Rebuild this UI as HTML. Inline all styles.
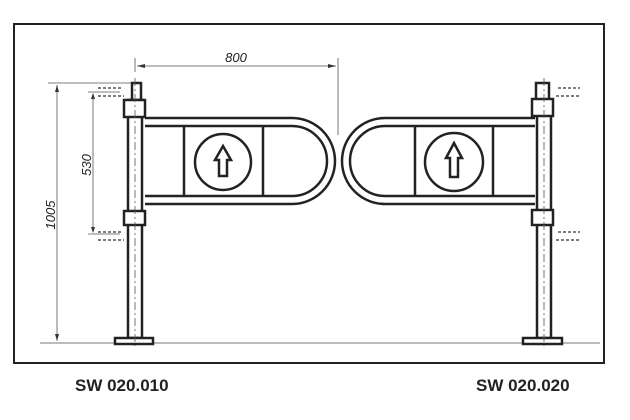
<!DOCTYPE html>
<html><head><style>body{margin:0;background:#fff}svg{display:block}</style></head><body>
<svg width="630" height="420" viewBox="0 0 630 420" xmlns="http://www.w3.org/2000/svg" font-family="Liberation Sans, sans-serif">
<rect x="14" y="24" width="590" height="339" fill="none" stroke="#222" stroke-width="2"/>
<line x1="40" y1="343" x2="600" y2="343" stroke="#777" stroke-width="1"/>
<g stroke="#555" stroke-width="0.8" fill="none">
<line x1="135" y1="58" x2="135" y2="72"/><line x1="338" y1="58" x2="338" y2="135"/>
<line x1="137" y1="66" x2="336" y2="66"/>
<line x1="48" y1="83" x2="132" y2="83"/><line x1="57" y1="85" x2="57" y2="341"/>
<line x1="88" y1="92" x2="120" y2="92"/><line x1="88" y1="234" x2="120" y2="234"/><line x1="93" y1="94" x2="93" y2="232"/>
</g>
<g fill="#333">
<polygon points="137,66 145,64 145,68"/><polygon points="336,66 328,64 328,68"/>
<polygon points="57,85 55,92 59,92"/><polygon points="57,341 55,334 59,334"/>
<polygon points="93,93 91,99 95,99"/><polygon points="93,233 91,227 95,227"/>
</g>
<text x="236" y="62" font-size="13" font-style="italic" text-anchor="middle" fill="#222">800</text>
<text transform="translate(55,215) rotate(-90)" font-size="13" font-style="italic" text-anchor="middle" fill="#222">1005</text>
<text transform="translate(91,165) rotate(-90)" font-size="13" font-style="italic" text-anchor="middle" fill="#222">530</text>
<g stroke="#333" stroke-width="1.2" stroke-dasharray="3,2" fill="none">
<path d="M98 88 H122 M98 96 H124 M98 232 H122 M98 240 H124"/>
<path d="M558 88 H580 M556 96 H580 M558 232 H580 M556 240 H580"/>
</g>
<g fill="#fff" stroke="#222" stroke-width="2.5">
<rect x="128" y="100" width="14" height="238"/>
<rect x="132" y="83" width="9" height="17"/>
<rect x="124" y="100" width="21" height="17"/>
<rect x="124" y="211" width="21" height="14"/>
<rect x="115" y="338" width="38" height="6"/>
<path d="M145 118 H292 A43 43 0 0 1 292 204 H145" />
<path d="M145 126 H292 A35 35 0 0 1 292 196 H145" />
<line x1="184" y1="126" x2="184" y2="196"/><line x1="263" y1="126" x2="263" y2="196"/>
<circle cx="223" cy="162" r="28"/>
<path d="M223 146 L231 160 L227 160 L227 176 L219 176 L219 160 L215 160 Z"/>
<rect x="537" y="100" width="14" height="238"/>
<rect x="536" y="83" width="13" height="17"/>
<rect x="532" y="99" width="21" height="17"/>
<rect x="532" y="210" width="21" height="15"/>
<rect x="523" y="338" width="39" height="6"/>
<path d="M535 118 H385 A43 43 0 0 0 385 204 H535" />
<path d="M535 126 H385 A35 35 0 0 0 385 196 H535" />
<line x1="415" y1="126" x2="415" y2="196"/><line x1="493" y1="126" x2="493" y2="196"/>
<circle cx="454" cy="162" r="29"/>
<path d="M454 143 L462 158 L458 158 L458 177 L450 177 L450 158 L446 158 Z"/>
</g>
<g stroke="#555" stroke-width="0.8" stroke-dasharray="8,3,2,3">
<line x1="135" y1="78" x2="135" y2="346"/><line x1="544" y1="78" x2="544" y2="346"/>
</g>
<text x="75" y="391" font-size="17" font-weight="bold" fill="#222">SW 020.010</text>
<text x="476" y="391" font-size="17" font-weight="bold" fill="#222">SW 020.020</text>
</svg>
</body></html>
